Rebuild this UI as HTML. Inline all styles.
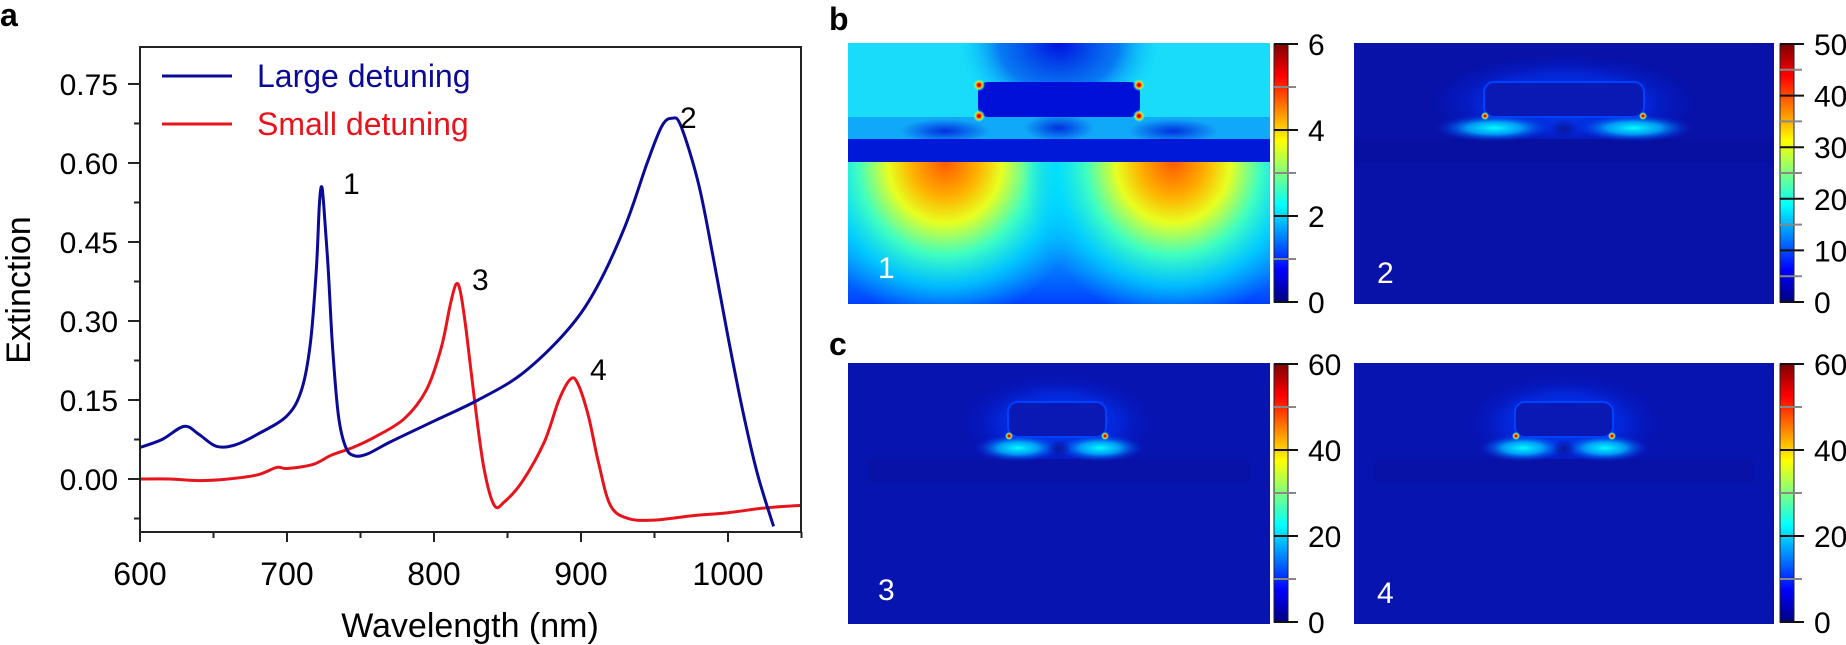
<!DOCTYPE html>
<html><head><meta charset="utf-8"><style>
html,body{margin:0;padding:0;background:#fff;}
svg{display:block;font-family:"Liberation Sans",Arial,sans-serif;}
</style></head><body>
<svg id="s" width="1846" height="645" viewBox="0 0 1846 645" xmlns="http://www.w3.org/2000/svg">
<defs>
<linearGradient id="jet" x1="0" y1="1" x2="0" y2="0">
<stop offset="0" stop-color="#00007f"/><stop offset="0.125" stop-color="#0000ff"/>
<stop offset="0.375" stop-color="#00ffff"/><stop offset="0.625" stop-color="#ffff00"/>
<stop offset="0.875" stop-color="#ff0000"/><stop offset="1" stop-color="#7f0000"/>
</linearGradient>
<radialGradient id="lobe" cx="0.5" cy="0.5" r="0.5">
<stop offset="0" stop-color="#ff5a00"/><stop offset="0.22" stop-color="#ffb000"/>
<stop offset="0.38" stop-color="#e8ff20"/><stop offset="0.58" stop-color="#40ffc0"/>
<stop offset="0.78" stop-color="#00e0ff" stop-opacity="0.7"/><stop offset="1" stop-color="#00c0ff" stop-opacity="0"/>
</radialGradient>
<radialGradient id="topdark" cx="0.5" cy="0.5" r="0.5">
<stop offset="0" stop-color="#0010e0"/><stop offset="0.6" stop-color="#0050f0" stop-opacity="0.7"/><stop offset="1" stop-color="#00c0ff" stop-opacity="0"/>
</radialGradient>
<radialGradient id="hot" cx="0.5" cy="0.5" r="0.5">
<stop offset="0" stop-color="#800000"/><stop offset="0.3" stop-color="#ff2000"/><stop offset="0.55" stop-color="#ffd000"/><stop offset="0.8" stop-color="#40ffd0" stop-opacity="0.6"/><stop offset="1" stop-color="#00ffff" stop-opacity="0"/>
</radialGradient>
<radialGradient id="cyan" cx="0.5" cy="0.5" r="0.5">
<stop offset="0" stop-color="#00ffff"/><stop offset="0.45" stop-color="#00b0ff" stop-opacity="0.85"/><stop offset="1" stop-color="#0020e0" stop-opacity="0"/>
</radialGradient>
<radialGradient id="glow" cx="0.5" cy="0.5" r="0.5">
<stop offset="0" stop-color="#0048ff"/><stop offset="0.6" stop-color="#0030f0" stop-opacity="0.6"/><stop offset="1" stop-color="#0010c0" stop-opacity="0"/>
</radialGradient>
<radialGradient id="dk" cx="0.5" cy="0.5" r="0.5">
<stop offset="0" stop-color="#0818a0"/><stop offset="1" stop-color="#0818a0" stop-opacity="0"/>
</radialGradient>
<radialGradient id="dk1" cx="0.5" cy="0.5" r="0.5">
<stop offset="0" stop-color="#0030e0"/><stop offset="1" stop-color="#0030e0" stop-opacity="0"/>
</radialGradient>
<linearGradient id="bot1" x1="0" y1="0" x2="0" y2="1">
<stop offset="0" stop-color="#00c8ff" stop-opacity="0"/><stop offset="1" stop-color="#0040ff"/>
</linearGradient>
<clipPath id="sub"><rect x="0" y="119" width="422" height="142"/></clipPath>
<clipPath id="topc"><rect x="0" y="0" width="422" height="74"/></clipPath>
</defs>

<text x="0" y="26" font-size="32" font-weight="bold">a</text>
<g id="plot"></g>
<rect x="140" y="47" width="661" height="485" fill="none" stroke="#222" stroke-width="2"/>
<g font-size="30" text-anchor="end" fill="#000">
<text x="118" y="490">0.00</text><text x="118" y="411">0.15</text><text x="118" y="332">0.30</text>
<text x="118" y="253">0.45</text><text x="118" y="174">0.60</text><text x="118" y="95">0.75</text>
</g>
<g font-size="32" text-anchor="middle">
<text x="140" y="585">600</text><text x="287" y="585">700</text><text x="434" y="585">800</text>
<text x="581" y="585">900</text><text x="728" y="585">1000</text>
</g>
<text x="470" y="637" font-size="34" text-anchor="middle">Wavelength (nm)</text>
<text transform="translate(30,290) rotate(-90)" font-size="34" text-anchor="middle">Extinction</text>
<line x1="162" y1="76" x2="232" y2="76" stroke="#0a0a96" stroke-width="3"/>
<line x1="162" y1="124" x2="232" y2="124" stroke="#e8141c" stroke-width="3"/>
<text x="257" y="87" font-size="32" fill="#0a0a96">Large detuning</text>
<text x="257" y="135" font-size="32" fill="#e8141c">Small detuning</text>
<g font-size="30">
<text x="343" y="194">1</text><text x="680" y="128">2</text><text x="472" y="290">3</text><text x="590" y="380">4</text>
</g>

<text x="829" y="30" font-size="32" font-weight="bold">b</text>
<text x="829" y="355" font-size="32" font-weight="bold">c</text>

<!-- Panel 1 -->
<svg x="848" y="43" width="422" height="261" viewBox="0 0 422 261">
<rect width="422" height="261" fill="#00c4ff"/>
<rect y="0" width="422" height="119" fill="#18dcfa"/>
<g clip-path="url(#topc)"><ellipse cx="211" cy="0" rx="100" ry="80" fill="url(#topdark)"/></g>
<rect x="0" y="74" width="422" height="22" fill="#10a8f8"/>
<ellipse cx="211" cy="85" rx="35" ry="14" fill="url(#dk1)"/>
<ellipse cx="97" cy="88" rx="45" ry="12" fill="url(#dk1)"/>
<ellipse cx="325" cy="88" rx="45" ry="12" fill="url(#dk1)"/>
<rect x="0" y="96" width="422" height="23" fill="#0018d8"/>
<rect x="0" y="119" width="422" height="142" fill="#10b8ff"/>
<rect x="0" y="119" width="422" height="142" fill="url(#bot1)"/>
<g clip-path="url(#sub)">
<ellipse cx="97" cy="119" rx="150" ry="160" fill="url(#lobe)"/>
<ellipse cx="325" cy="119" rx="150" ry="160" fill="url(#lobe)"/>
</g>
<rect x="130" y="39" width="162" height="35" rx="10" fill="#0010d8"/>
<circle cx="131" cy="42" r="6" fill="url(#hot)"/><circle cx="291" cy="42" r="6" fill="url(#hot)"/>
<circle cx="131" cy="73" r="6" fill="url(#hot)"/><circle cx="291" cy="73" r="6" fill="url(#hot)"/>
<text x="30" y="235" font-size="30" fill="#fff">1</text>
</svg>

<!-- Panel 2 -->
<svg x="1354" y="43" width="420" height="261" viewBox="0 0 420 261">
<rect width="420" height="261" fill="#0812a8"/>
<ellipse cx="210" cy="60" rx="140" ry="50" fill="url(#glow)"/>
<rect x="0" y="96" width="420" height="23" fill="#0710a0"/>
<ellipse cx="140" cy="85" rx="60" ry="14" fill="url(#cyan)"/>
<ellipse cx="280" cy="85" rx="60" ry="14" fill="url(#cyan)"/>
<ellipse cx="210" cy="86" rx="14" ry="10" fill="url(#dk)"/>
<rect x="130" y="39" width="160" height="35" rx="10" fill="#0a18b4" stroke="#0040ff" stroke-width="2"/>
<circle cx="131" cy="73" r="4" fill="url(#hot)"/><circle cx="289" cy="73" r="4" fill="url(#hot)"/>
<text x="23" y="240" font-size="30" fill="#fff">2</text>
</svg>

<!-- Panel 3 -->
<svg x="848" y="363" width="422" height="261" viewBox="0 0 422 261">
<rect width="422" height="261" fill="#0814b0"/>
<ellipse cx="211" cy="60" rx="100" ry="50" fill="url(#glow)"/>
<rect x="20" y="96" width="382" height="23" fill="#0812a6"/>
<ellipse cx="170" cy="85" rx="45" ry="14" fill="url(#cyan)"/>
<ellipse cx="252" cy="85" rx="45" ry="14" fill="url(#cyan)"/>
<ellipse cx="211" cy="86" rx="12" ry="10" fill="url(#dk)"/>
<rect x="160" y="39" width="98" height="35" rx="10" fill="#0a18b4" stroke="#0040ff" stroke-width="2"/>
<circle cx="161" cy="73" r="4" fill="url(#hot)"/><circle cx="257" cy="73" r="4" fill="url(#hot)"/>
<text x="30" y="237" font-size="30" fill="#fff">3</text>
</svg>

<!-- Panel 4 -->
<svg x="1354" y="363" width="420" height="261" viewBox="0 0 420 261">
<rect width="420" height="261" fill="#0814b0"/>
<ellipse cx="210" cy="60" rx="100" ry="50" fill="url(#glow)"/>
<rect x="20" y="96" width="380" height="23" fill="#0812a6"/>
<ellipse cx="169" cy="85" rx="45" ry="14" fill="url(#cyan)"/>
<ellipse cx="251" cy="85" rx="45" ry="14" fill="url(#cyan)"/>
<ellipse cx="210" cy="86" rx="12" ry="10" fill="url(#dk)"/>
<rect x="161" y="39" width="98" height="35" rx="10" fill="#0a18b4" stroke="#0040ff" stroke-width="2"/>
<circle cx="162" cy="73" r="4" fill="url(#hot)"/><circle cx="258" cy="73" r="4" fill="url(#hot)"/>
<text x="23" y="240" font-size="30" fill="#fff">4</text>
</svg>

<g id="cbars"></g>
</svg>
<script>
(function(){
var NS="http://www.w3.org/2000/svg";
function el(p,t,a){var e=document.createElementNS(NS,t);for(var k in a)e.setAttribute(k,a[k]);p.appendChild(e);return e;}
var g=document.getElementById('plot');
function X(l){return 140+1.47*(l-600);}function Y(v){return 479-526.7*v;}
for(var v=-0.075;v<=0.76;v+=0.075){var maj=Math.abs(Math.round(v/0.075))%2==0;el(g,'line',{x1:maj?128:134,x2:140,y1:Y(v),y2:Y(v),stroke:'#222','stroke-width':2});}
for(var l=600;l<=1050;l+=50){var maj=l%100==0;el(g,'line',{x1:X(l),x2:X(l),y1:532,y2:maj?542:538,stroke:'#222','stroke-width':2});}
function path(d,col){var p=d.map(function(a){return [X(a[0]),Y(a[1])];});var s='M'+p[0][0]+','+p[0][1];
for(var i=0;i<p.length-1;i++){var p0=p[i-1]||p[i],p1=p[i],p2=p[i+1],p3=p[i+2]||p2;
s+=' C'+(p1[0]+(p2[0]-p0[0])/6)+','+(p1[1]+(p2[1]-p0[1])/6)+' '+(p2[0]-(p3[0]-p1[0])/6)+','+(p2[1]-(p3[1]-p1[1])/6)+' '+p2[0]+','+p2[1];}
el(g,'path',{d:s,fill:'none',stroke:col,'stroke-width':3,'stroke-linejoin':'round'});}
var blue=[[600,0.06],[615,0.075],[630,0.10],[640,0.085],[652,0.062],[665,0.065],[680,0.085],[700,0.12],[710,0.17],[716,0.26],[720,0.40],[722,0.52],[723.5,0.555],[725,0.52],[728,0.40],[731,0.25],[735,0.12],[740,0.06],[746,0.044],[755,0.048],[770,0.07],[800,0.11],[830,0.15],[860,0.20],[890,0.28],[910,0.36],[930,0.48],[945,0.60],[955,0.67],[962,0.685],[968,0.67],[980,0.56],[990,0.42],[1000,0.27],[1010,0.13],[1020,0.01],[1031,-0.09]];
var red=[[600,0],[620,0],[640,-0.003],[660,0],[680,0.008],[693,0.022],[700,0.02],[718,0.028],[730,0.045],[745,0.06],[760,0.08],[780,0.115],[795,0.17],[805,0.25],[811,0.33],[815,0.37],[818,0.355],[822,0.28],[828,0.14],[834,0.02],[841,-0.05],[848,-0.043],[860,-0.005],[875,0.07],[885,0.15],[893,0.19],[898,0.18],[905,0.12],[912,0.03],[920,-0.05],[932,-0.075],[950,-0.078],[975,-0.07],[1000,-0.064],[1025,-0.055],[1050,-0.05]];
path(red,'#e8141c');path(blue,'#0a0a96');
var cb=document.getElementById('cbars');
function cbar(x,y,h,max,majStep,minStep){el(cb,'rect',{x:x,y:y,width:14,height:h,fill:'url(#jet)',stroke:'#222','stroke-width':1});
for(var v=0;v<=max+1e-9;v+=minStep){var yy=y+h-h*v/max;var maj=Math.abs(v/majStep-Math.round(v/majStep))<1e-6;
el(cb,'line',{x1:x,x2:x+(maj?24:22),y1:yy,y2:yy,stroke:maj?'#111':'#888','stroke-width':2});
if(maj){var t=el(cb,'text',{x:x+34,y:yy+11,'font-size':30});t.textContent=Math.round(v);}}}
cbar(1274,44,258,6,2,1);cbar(1780,44,258,50,10,5);cbar(1274,364,258,60,20,10);cbar(1780,364,258,60,20,10);
})();
</script>
</body></html>
